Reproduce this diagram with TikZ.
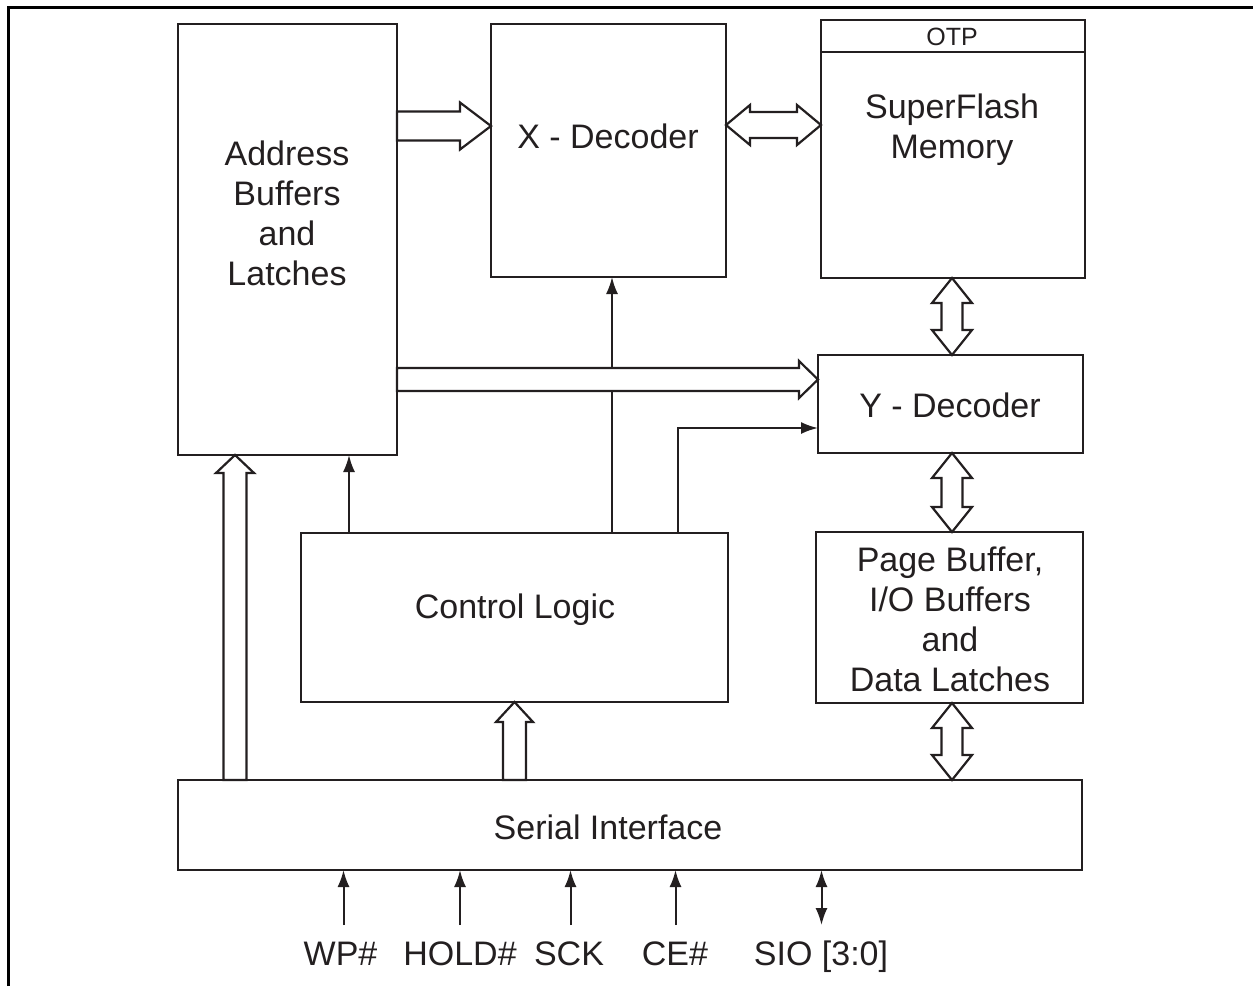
\documentclass[tikz,border=0pt]{standalone}
\usepackage{fontspec}
\setmainfont{Liberation Sans}
\usetikzlibrary{calc,arrows.meta}
\definecolor{ink}{RGB}{35,31,32}
\newcommand\HArrowR[5]{%
  \draw[harrow] ($(#1)+(0,-#3)$) -- ($(#2)+(-#5,-#3)$) -- ($(#2)+(-#5,-#4)$) -- (#2)
    -- ($(#2)+(-#5,#4)$) -- ($(#2)+(-#5,#3)$) -- ($(#1)+(0,#3)$) -- cycle;}
\newcommand\HArrowLR[5]{%
  \draw[harrow] (#1) -- ($(#1)+(#5,-#4)$) -- ($(#1)+(#5,-#3)$) -- ($(#2)+(-#5,-#3)$)
    -- ($(#2)+(-#5,-#4)$) -- (#2) -- ($(#2)+(-#5,#4)$) -- ($(#2)+(-#5,#3)$)
    -- ($(#1)+(#5,#3)$) -- ($(#1)+(#5,#4)$) -- cycle;}
\newcommand\VArrowUD[5]{%
  \draw[harrow] (#1) -- ($(#1)+(#4,#5)$) -- ($(#1)+(#3,#5)$) -- ($(#2)+(#3,-#5)$)
    -- ($(#2)+(#4,-#5)$) -- (#2) -- ($(#2)+(-#4,-#5)$) -- ($(#2)+(-#3,-#5)$)
    -- ($(#1)+(-#3,#5)$) -- ($(#1)+(-#4,#5)$) -- cycle;}
\newcommand\VArrowU[5]{%
  \draw[harrow] ($(#1)+(-#3,0)$) -- ($(#2)+(-#3,#5)$) -- ($(#2)+(-#4,#5)$) -- (#2)
    -- ($(#2)+(#4,#5)$) -- ($(#2)+(#3,#5)$) -- ($(#1)+(#3,0)$) -- cycle;}
\begin{document}
\begin{tikzpicture}[x=1pt,y=-1pt,
  box/.style={draw=ink,line width=2.4pt,inner sep=0pt,outer sep=0pt},
  txt/.style={align=center,inner sep=0pt,font=\fontsize{34}{40}\selectfont,text=ink},
  harrow/.style={draw=ink,fill=white,line width=2.2pt,line join=miter},
  tarrow/.style={draw=ink,line width=2pt,-{Latex[length=17pt,width=12pt]}},
  darrow/.style={draw=ink,line width=2pt,{Latex[length=17pt,width=12pt]}-{Latex[length=17pt,width=12pt]}}]
\useasboundingbox (0,0) rectangle (1253,986);
\draw[line width=3pt,black] (8.5,986) -- (8.5,7) -- (1253,7);

% boxes
\node[box,minimum width=219pt,minimum height=431pt] (addr) at (287.5,239.5) {};
\node[box,minimum width=235pt,minimum height=253pt] (xdec) at (608.5,150.5) {};
\node[box,minimum width=264pt,minimum height=258pt] (sflash) at (953,149) {};
\node[box,minimum width=265pt,minimum height=98pt] (ydec) at (950.5,404) {};
\node[box,minimum width=267pt,minimum height=171pt] (page) at (949.5,617.5) {};
\node[box,minimum width=427pt,minimum height=169pt] (ctrl) at (514.5,617.5) {};
\node[box,minimum width=904pt,minimum height=90pt] (serial) at (630,825) {};
\coordinate (otpl) at ($(sflash.north west)+(0,32)$);
\coordinate (otpr) at ($(sflash.north east)+(0,32)$);
\draw[ink,line width=2.4pt] (otpl) -- (otpr);

% texts
\node[txt] (taddr) at (287,213) {Address\\Buffers\\and\\Latches};
\node[txt] (txdec) at (608,136) {X - Decoder};
\node[txt] (tsf) at (952,130) {SuperFlash\\Memory};
\node[txt,font=\fontsize{25}{30}\selectfont] (totp) at (952,37) {OTP};
\node[txt] (tydec) at (950,405) {Y - Decoder};
\node[txt] (tctrl) at (515,610) {Control Logic};
\node[txt] (tpage) at (950,619) {Page Buffer,\\I/O Buffers\\and\\Data Latches};
\node[txt] (tser) at (608,827) {Serial Interface};

% thin arrows from control logic
\coordinate (c1) at ($(ctrl.north west)+(48,0)$);
\coordinate (c2) at ($(ctrl.north west)+(311,0)$);
\coordinate (c3) at ($(ctrl.north west)+(377,0)$);
\coordinate (y3) at ($(ydec.north west)+(0,73)$);
\draw[tarrow] (c1) -- (c1 |- addr.south);
\draw[tarrow] (c2) -- (c2 |- xdec.south);
\draw[tarrow] (c3) |- (y3);

% hollow arrows
\coordinate (a1s) at ($(addr.north east)+(0,102)$);
\coordinate (a1e) at ($(xdec.north west)+(0,102)$);
\HArrowR{a1s}{a1e}{14.5}{23.5}{31}
\coordinate (a2s) at ($(xdec.north east)+(0,101)$);
\coordinate (a2e) at ($(sflash.north west)+(0,105)$);
\HArrowLR{a2s}{a2e}{13}{20}{24}
\coordinate (a3s) at ($(sflash.south west)+(131,0)$);
\coordinate (a3e) at ($(ydec.north west)+(134,0)$);
\VArrowUD{a3s}{a3e}{10.5}{20}{25}
\coordinate (a4s) at ($(addr.north east)+(0,355.5)$);
\coordinate (a4e) at ($(ydec.north west)+(0,24.5)$);
\HArrowR{a4s}{a4e}{11.5}{18.5}{19}
\coordinate (a5s) at ($(ydec.south west)+(134,0)$);
\coordinate (a5e) at ($(page.north west)+(136,0)$);
\VArrowUD{a5s}{a5e}{10.5}{20}{25}
\coordinate (a6s) at ($(page.south west)+(136,0)$);
\coordinate (a6e) at ($(serial.north west)+(774,0)$);
\VArrowUD{a6s}{a6e}{10.5}{20}{25}
\coordinate (a7s) at ($(serial.north west)+(57,0)$);
\coordinate (a7e) at ($(addr.south west)+(57,0)$);
\VArrowU{a7s}{a7e}{11.5}{19}{18}
\coordinate (a8s) at ($(serial.north west)+(336.5,0)$);
\VArrowU{a8s}{ctrl.south}{11.5}{18.5}{20}

% signals
\node[txt,anchor=base] (lwp) at (340.5,965) {WP\#};
\node[txt,anchor=base] (lhold) at (460,965) {HOLD\#};
\node[txt,anchor=base] (lsck) at (569,965) {SCK};
\node[txt,anchor=base] (lce) at (675,965) {CE\#};
\node[txt,anchor=base] (lsio) at (821,965) {SIO [3:0]};
\coordinate (s1) at (343.5,925);
\coordinate (s2) at (460,925);
\coordinate (s3) at (570.5,925);
\coordinate (s4) at (675.5,925);
\coordinate (s5) at (821.5,925);
\draw[tarrow] (s1) -- (s1 |- serial.south);
\draw[tarrow] (s2) -- (s2 |- serial.south);
\draw[tarrow] (s3) -- (s3 |- serial.south);
\draw[tarrow] (s4) -- (s4 |- serial.south);
\draw[darrow] (s5) -- (s5 |- serial.south);
\end{tikzpicture}
\end{document}
